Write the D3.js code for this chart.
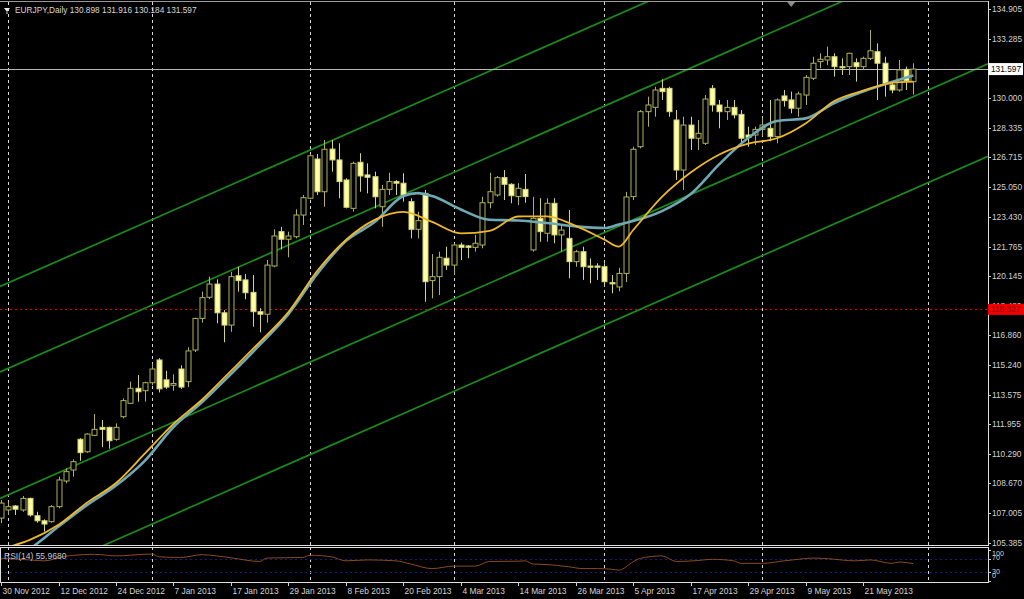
<!DOCTYPE html>
<html><head><meta charset="utf-8">
<script src="https://cdn.jsdelivr.net/npm/d3@7"></script>
<style>
html,body{margin:0;padding:0;background:#000;overflow:hidden;}
svg{display:block;}
text{font-family:"Liberation Sans",Arial,sans-serif;}
</style></head><body>
<svg id="chart" width="1024" height="599"></svg>
<script>
// ---------- DATA ----------
const symbolTitle = "EURJPY,Daily  130.898 131.916 130.184 131.597";
const rsiTitle = "RSI(14) 55.9680";

const opens  = [106.75,107.20,107.42,107.20,107.84,106.88,106.60,106.55,107.38,108.80,109.41,111.11,110.42,111.33,111.77,111.77,111.11,112.36,113.10,113.93,113.80,114.24,115.50,114.40,114.10,115.00,114.30,116.05,117.80,118.97,119.70,118.11,117.43,120.16,119.93,119.24,118.17,118.03,120.70,122.60,122.18,122.32,123.52,124.45,126.62,124.81,127.17,126.57,125.46,123.89,126.44,125.74,125.64,123.98,124.94,125.37,125.28,124.26,122.73,124.72,119.89,120.11,121.13,120.75,121.86,121.81,121.73,121.86,124.20,124.63,125.59,125.22,124.54,124.94,121.59,123.34,122.51,124.17,122.42,122.23,120.94,121.49,120.70,120.70,120.66,119.78,119.54,120.29,124.54,127.30,129.24,129.48,130.53,130.53,128.78,126.01,128.50,127.77,127.49,130.53,129.61,129.24,129.48,129.09,127.95,127.95,128.26,128.32,127.86,130.11,129.89,129.43,130.16,131.09,132.01,132.10,132.28,131.73,131.73,131.95,131.73,132.19,132.56,131.92,130.72,130.44,131.58,130.898];
const highs  = [107.75,107.66,107.47,107.97,107.88,107.10,106.68,107.47,109.04,109.50,110.00,111.17,111.44,112.51,112.18,111.81,111.99,113.38,114.30,114.67,114.30,115.30,115.60,114.90,114.70,115.20,116.20,117.84,119.28,120.11,119.96,118.26,120.38,120.66,120.26,120.20,118.36,121.03,122.73,122.87,122.60,123.84,124.63,126.90,126.90,127.67,127.67,127.49,125.55,126.47,126.94,126.38,125.92,125.18,125.86,125.46,125.83,124.45,123.70,124.91,121.36,121.49,121.77,121.96,121.99,121.86,122.42,124.53,125.86,125.68,126.01,125.28,125.28,125.79,124.53,124.45,124.45,124.45,122.91,123.80,121.59,121.77,121.12,120.85,120.85,120.20,120.60,124.80,127.30,129.33,130.07,130.62,131.03,130.62,129.33,128.96,128.96,128.78,130.16,130.71,129.89,129.89,129.89,129.33,128.41,128.41,128.90,129.89,129.98,130.44,130.35,130.35,131.27,132.28,132.47,132.84,132.47,132.19,132.50,132.19,132.28,133.76,133.02,132.28,130.90,132.10,131.73,131.916];
const lows   = [106.47,106.92,106.92,107.10,106.83,106.49,106.00,106.49,107.29,108.67,109.04,109.92,110.37,111.29,110.67,110.59,111.03,112.27,113.06,113.19,113.19,114.10,113.70,113.90,113.80,113.90,114.00,115.94,117.56,118.86,117.53,116.48,117.06,119.28,118.86,117.34,117.03,117.56,120.63,121.62,121.18,122.23,122.97,124.39,124.63,123.98,125.92,124.45,123.89,123.71,124.81,124.72,123.89,122.87,124.63,124.63,124.26,122.23,122.23,118.72,118.91,119.09,120.48,120.20,121.03,121.13,121.49,121.68,123.89,124.53,124.35,124.17,124.07,124.20,121.49,122.04,122.04,121.96,121.49,120.02,120.66,119.93,119.74,119.93,119.55,119.19,119.30,119.81,124.35,127.21,128.41,128.96,129.89,128.96,125.46,124.91,127.12,127.12,127.40,129.24,128.32,128.78,128.87,127.49,127.30,127.40,127.90,127.60,127.49,129.52,129.15,128.96,129.61,130.99,131.64,131.82,131.18,131.27,131.27,130.90,131.55,132.10,129.89,130.07,130.26,130.35,130.44,130.184];
const closes = [107.58,107.38,107.24,107.84,106.92,106.60,106.42,107.38,108.86,109.32,109.87,110.37,111.40,111.66,111.66,111.03,111.77,113.25,113.93,113.74,114.24,115.00,113.90,114.00,114.20,114.00,116.00,117.80,118.95,119.70,118.11,117.43,120.11,119.89,119.22,118.17,118.03,120.75,122.36,122.18,122.36,123.52,124.48,126.80,124.81,127.16,126.57,125.37,123.95,126.38,125.68,125.61,124.53,124.94,125.37,125.28,124.63,122.73,123.21,119.83,120.11,121.18,120.75,121.86,121.73,121.73,121.96,124.20,124.81,125.59,125.22,124.59,125.00,124.54,123.34,122.60,124.17,122.42,122.69,120.94,121.49,120.66,120.63,120.63,119.83,119.71,120.29,124.52,127.16,129.24,129.61,130.44,130.35,129.24,126.01,128.50,127.77,128.04,129.94,129.61,129.24,129.48,129.06,127.77,127.82,128.26,128.50,127.86,129.89,129.85,129.43,130.22,131.14,131.92,132.14,132.28,131.73,131.67,132.47,131.73,132.19,132.61,131.92,130.81,130.44,131.55,130.95,131.597];

// moving averages: [bar, price]
const fastMA = [[0,105.04],[4,105.54],[8,106.38],[12,107.62],[16,108.69],[20,110.31],[24,111.96],[28,113.31],[32,114.89],[36,116.49],[40,118.15],[44,120.42],[48,122.14],[52,123.25],[56,123.69],[60,123.14],[64,122.50],[68,122.64],[72,123.44],[76,123.45],[80,122.92],[84,122.16],[86,121.77],[88,122.69],[92,124.52],[96,125.87],[100,126.87],[104,127.47],[108,127.77],[112,128.59],[116,129.83],[120,130.40],[124,130.83],[127,130.90]];
const slowMA = [[0,104.00],[4,105.04],[8,106.28],[12,107.48],[16,108.55],[20,109.92],[24,111.79],[28,113.17],[32,114.72],[36,116.33],[40,118.04],[44,120.26],[48,122.08],[52,123.13],[56,124.57],[58,124.73],[60,124.57],[64,123.83],[68,123.26],[72,123.22],[76,123.08],[80,122.89],[84,122.80],[86,123.00],[88,123.19],[92,123.74],[96,124.68],[100,126.34],[104,127.78],[108,128.72],[112,128.87],[116,129.72],[120,130.36],[124,130.88],[127,131.24]];

// RSI(14): [bar, value]
const rsiPoints = [[0,73],[4,68],[6,65],[9,80],[13,86],[16,81],[21,87],[22,78],[25,76],[28,85],[30,81],[32,75],[36,63],[37,74],[42,76],[43,83],[46,78],[48,65],[51,68],[55,65],[57,55],[60,40],[63,48],[66,48],[68,63],[72,64],[73,65],[74,55],[76,53],[79,46],[81,40],[83,40],[85,38],[86,35],[88,62],[89,73],[92,81],[94,63],[97,66],[99,70],[102,65],[103,57],[106,57],[109,65],[111,70],[113,74],[115,72],[119,65],[121,68],[124,57],[125,61],[127,56]];

const priceTicks = [134.905,133.285,131.620,130.000,128.335,126.715,125.050,123.430,121.765,120.145,118.480,116.860,115.240,113.575,111.955,110.290,108.670,107.005,105.385];
const dateLabels = ["30 Nov 2012","12 Dec 2012","24 Dec 2012","7 Jan 2013","17 Jan 2013","29 Jan 2013","8 Feb 2013","20 Feb 2013","4 Mar 2013","14 Mar 2013","26 Mar 2013","5 Apr 2013","17 Apr 2013","29 Apr 2013","9 May 2013","21 May 2013"];
const dateLabelBars = [0,8,16,24,32,40,48,56,64,72,80,88,96,104,112,120];
const monthStartBars = [1,21,43,63,84,106,129];
// trend channel lines: price at bar 0 and at bar 130
const channelLines = [[119.59,142.33],[114.86,137.60],[107.86,130.60],[102.74,125.48]];
const currentPrice = 131.597;
const alertPrice = 118.327;
const rsiLevels = [70,30];
const rsiAxisValues = [100,70,30,0];
const chartShiftBar = 110;

// ---------- LAYOUT ----------
const W = 1024, H = 599;
const plotRight = 988, mainTop = 2, mainBottom = 545, rsiTop = 547, rsiBottom = 582;
const svg = d3.select("#chart");
svg.append("rect").attr("width",W).attr("height",H).attr("fill","#000");

const x = d3.scaleLinear().domain([0,129]).range([1.1,927.7]);
const y = d3.scaleLinear().domain([105.26,135.309]).range([mainBottom,mainTop]);
const yr = d3.scaleLinear().domain([0,100]).range([581,550]);
// where the sub-window prints its level captions
const yrLabel = {100:555.5, 70:559.5, 30:573.5, 0:577.5};

const defs = svg.append("defs");
defs.append("clipPath").attr("id","mainClip").append("rect")
  .attr("x",0).attr("y",mainTop).attr("width",plotRight).attr("height",mainBottom-mainTop);
defs.append("clipPath").attr("id","rsiClip").append("rect")
  .attr("x",0).attr("y",rsiTop).attr("width",plotRight).attr("height",rsiBottom-rsiTop);

const main = svg.append("g").attr("clip-path","url(#mainClip)");
const rsiG = svg.append("g").attr("clip-path","url(#rsiClip)");

// vertical month grid
monthStartBars.forEach(b=>{
  const xx = Math.round(x(b))+0.5;
  main.append("line").attr("x1",xx).attr("x2",xx).attr("y1",mainTop).attr("y2",mainBottom)
    .attr("stroke","#d8d8d8").attr("stroke-width",1).attr("stroke-dasharray","3,3");
  rsiG.append("line").attr("x1",xx).attr("x2",xx).attr("y1",rsiTop).attr("y2",rsiBottom)
    .attr("stroke","#d8d8d8").attr("stroke-width",1).attr("stroke-dasharray","3,3");
});

// alert (red dotted) line
main.append("line").attr("x1",0).attr("x2",plotRight)
  .attr("y1",Math.round(y(alertPrice))+0.5).attr("y2",Math.round(y(alertPrice))+0.5)
  .attr("stroke","#e00000").attr("stroke-dasharray","2,3");

// channel lines
const x0b = x.invert(0), x1b = x.invert(plotRight);
channelLines.forEach(([p0,p1])=>{
  const f = b => p0 + (p1-p0)*b/130;
  main.append("line").attr("x1",x(x0b)).attr("y1",y(f(x0b)))
    .attr("x2",x(x1b)).attr("y2",y(f(x1b)))
    .attr("stroke","#1b8a1b").attr("stroke-width",1.7);
});

// current price line
main.append("line").attr("x1",0).attr("x2",plotRight)
  .attr("y1",Math.round(y(currentPrice))+0.5).attr("y2",Math.round(y(currentPrice))+0.5)
  .attr("stroke","#b8b8b8").attr("stroke-width",1);

// candles
const bullColor = "#b0b05a", bearStroke = "#d4d47c", bearFill = "#ffffa6";
const bw = 5;
opens.forEach((o,i)=>{
  const c = closes[i], h = highs[i], l = lows[i];
  const cx = Math.round(x(i))+0.5;
  const bull = c >= o;
  main.append("line").attr("x1",cx).attr("x2",cx).attr("y1",y(h)).attr("y2",y(l))
    .attr("stroke", bull?bullColor:bearStroke).attr("stroke-width",1);
  const top = y(Math.max(o,c)), bot = y(Math.min(o,c));
  main.append("rect").attr("x",cx-bw/2).attr("y",top)
    .attr("width",bw).attr("height",Math.max(1,bot-top))
    .attr("fill", bull?"#000":bearFill)
    .attr("stroke", bull?bullColor:bearStroke).attr("stroke-width",1);
});

// moving averages
const maLine = d3.line().x(d=>x(d[0])).y(d=>y(d[1])).curve(d3.curveMonotoneX);
main.append("path").datum(slowMA).attr("d",maLine).attr("fill","none")
  .attr("stroke","#6fa9b6").attr("stroke-width",2.6);
main.append("path").datum(fastMA).attr("d",maLine).attr("fill","none")
  .attr("stroke","#f0b828").attr("stroke-width",1.8);

// chart shift marker
svg.append("path").attr("d",`M${x(chartShiftBar)-4},${mainTop} L${x(chartShiftBar)+4},${mainTop} L${x(chartShiftBar)},${mainTop+5} Z`)
  .attr("fill","#8c8c8c");

// RSI panel
rsiLevels.forEach(v=>{
  rsiG.append("line").attr("x1",0).attr("x2",plotRight)
    .attr("y1",Math.round(yr(v))+0.5).attr("y2",Math.round(yr(v))+0.5)
    .attr("stroke","#1c1c7a").attr("stroke-dasharray","2,3");
});
const rsiLine = d3.line().x(d=>x(d[0])).y(d=>yr(d[1])).curve(d3.curveMonotoneX);
rsiG.append("path").datum(rsiPoints).attr("d",rsiLine).attr("fill","none")
  .attr("stroke","#8a4a28").attr("stroke-width",1);
svg.append("text").attr("x",4).attr("y",559).attr("fill","#c8c8c8")
  .attr("font-size",8.5).text(rsiTitle);

// frames
const fr = svg.append("g").attr("fill","none").attr("stroke","#e0e0e0").attr("stroke-width",1);
fr.append("line").attr("x1",0).attr("x2",plotRight).attr("y1",mainTop-0.5).attr("y2",mainTop-0.5).attr("stroke","#9a9a9a");
fr.append("line").attr("x1",0).attr("x2",plotRight+0.5).attr("y1",mainBottom+0.5).attr("y2",mainBottom+0.5);
fr.append("line").attr("x1",plotRight+0.5).attr("x2",plotRight+0.5).attr("y1",mainTop-1).attr("y2",mainBottom+1);
fr.append("rect").attr("x",0.5).attr("y",rsiTop+0.5).attr("width",plotRight).attr("height",rsiBottom-rsiTop);

// price axis
const axG = svg.append("g");
priceTicks.forEach(p=>{
  const yy = Math.round(y(p))+0.5;
  axG.append("line").attr("x1",plotRight).attr("x2",plotRight+3).attr("y1",yy).attr("y2",yy).attr("stroke","#d0d0d0");
  axG.append("text").attr("x",plotRight+4).attr("y",yy+2.2).attr("fill","#d4d4d4")
    .attr("font-size",8.3).text(p.toFixed(3));
});
// rsi axis labels
rsiAxisValues.forEach(v=>{
  const yy = yr(v);
  axG.append("line").attr("x1",plotRight).attr("x2",plotRight+3).attr("y1",Math.round(yy)+0.5).attr("y2",Math.round(yy)+0.5).attr("stroke","#d0d0d0");
  axG.append("text").attr("x",plotRight+4).attr("y",yrLabel[v]).attr("fill","#d4d4d4")
    .attr("font-size",7.2).text(v);
});
// current price label
const cy = y(currentPrice);
axG.append("rect").attr("x",plotRight).attr("y",cy-6).attr("width",35).attr("height",12).attr("fill","#ffffff");
axG.append("text").attr("x",plotRight+3).attr("y",cy+3).attr("fill","#000").attr("font-size",8.3).text(currentPrice.toFixed(3));
// alert label
const ay = y(alertPrice);
axG.append("rect").attr("x",plotRight).attr("y",ay-5).attr("width",36).attr("height",11).attr("fill","#f00000");
axG.append("text").attr("x",plotRight+3).attr("y",ay+3.5).attr("fill","#900000").attr("font-size",8.3).text(alertPrice.toFixed(3));

// date axis
dateLabelBars.forEach((b,k)=>{
  const xx = Math.round(x(b))+0.5;
  axG.append("line").attr("x1",xx).attr("x2",xx).attr("y1",rsiBottom).attr("y2",rsiBottom+4).attr("stroke","#d0d0d0");
  axG.append("text").attr("x",xx+1).attr("y",594).attr("fill","#d4d4d4").attr("font-size",8.4).text(dateLabels[k]);
});

// title
svg.append("path").attr("d","M4,8 L10,8 L7,12 Z").attr("fill","#e8e8e8");
svg.append("line").attr("x1",7).attr("x2",7).attr("y1",12).attr("y2",14).attr("stroke","#e8e8e8");
svg.append("text").attr("x",15).attr("y",13).attr("fill","#d8d8d8").attr("font-size",8.3).text(symbolTitle);
</script>
</body></html>
